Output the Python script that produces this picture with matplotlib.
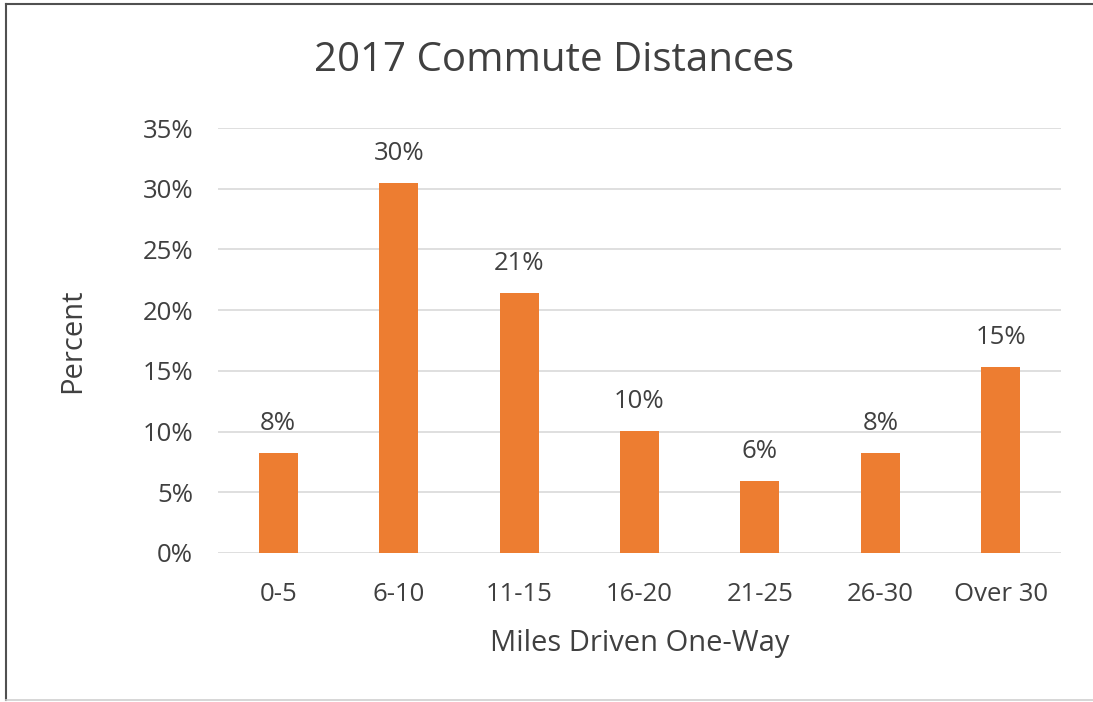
import matplotlib
matplotlib.use("Agg")
import matplotlib.pyplot as plt
from matplotlib.lines import Line2D
from matplotlib.ticker import PercentFormatter

categories = ["0-5", "6-10", "11-15", "16-20", "21-25", "26-30", "Over 30"]
percents = [8.2, 30.5, 21.4, 10.05, 5.95, 8.2, 15.3]
labels = ["8%", "30%", "21%", "10%", "6%", "8%", "15%"]

plt.rcParams['font.family'] = ['Open Sans', 'DejaVu Sans']
text_color = "#404040"

fig = plt.figure(figsize=(10.93, 7.02), dpi=100)
ax = fig.add_axes([218/1093, 1 - 553/702, (1061-218)/1093, (553-128)/702])

x = range(len(categories))
ax.bar(x, percents, width=0.325, color="#ED7D31", zorder=3)
for xi, p, lab in zip(x, percents, labels):
    ax.text(xi, p + 1.4, lab, ha="center", va="bottom", fontsize=18.5, color=text_color)

ax.set_xlim(-0.5, len(categories) - 0.5)
ax.set_ylim(0, 35)
ax.set_yticks(range(0, 36, 5))
ax.yaxis.set_major_formatter(PercentFormatter(decimals=0))
ax.set_xticks(list(x))
ax.set_xticklabels(categories)
ax.tick_params(axis="both", length=0, labelsize=18.5, labelcolor=text_color)
ax.tick_params(axis="x", pad=21)
ax.tick_params(axis="y", pad=18)
ax.grid(axis="y", color="#D9D9D9", linewidth=1.2, zorder=0)
for s in ax.spines.values():
    s.set_visible(False)

ax.set_xlabel("Miles Driven One-Way", fontsize=21, color=text_color, labelpad=16)
ax.set_ylabel("Percent", fontsize=21, color=text_color, labelpad=40)
fig.text(554/1093, 1 - 61/702, "2017 Commute Distances", ha="center", va="center",
         fontsize=29, color=text_color)

# outer chart border: dark top/left, light bottom
fig.add_artist(Line2D([6/1093, 6/1093], [1 - 4/702, 1 - 700/702],
                      transform=fig.transFigure, color="#505050", linewidth=1.5))
fig.add_artist(Line2D([6/1093, 1], [1 - 4/702, 1 - 4/702],
                      transform=fig.transFigure, color="#505050", linewidth=1.5))
fig.add_artist(Line2D([6/1093, 1], [1 - 700/702, 1 - 700/702],
                      transform=fig.transFigure, color="#D0D0D0", linewidth=1.2))

fig.savefig("out.png", dpi=100)
